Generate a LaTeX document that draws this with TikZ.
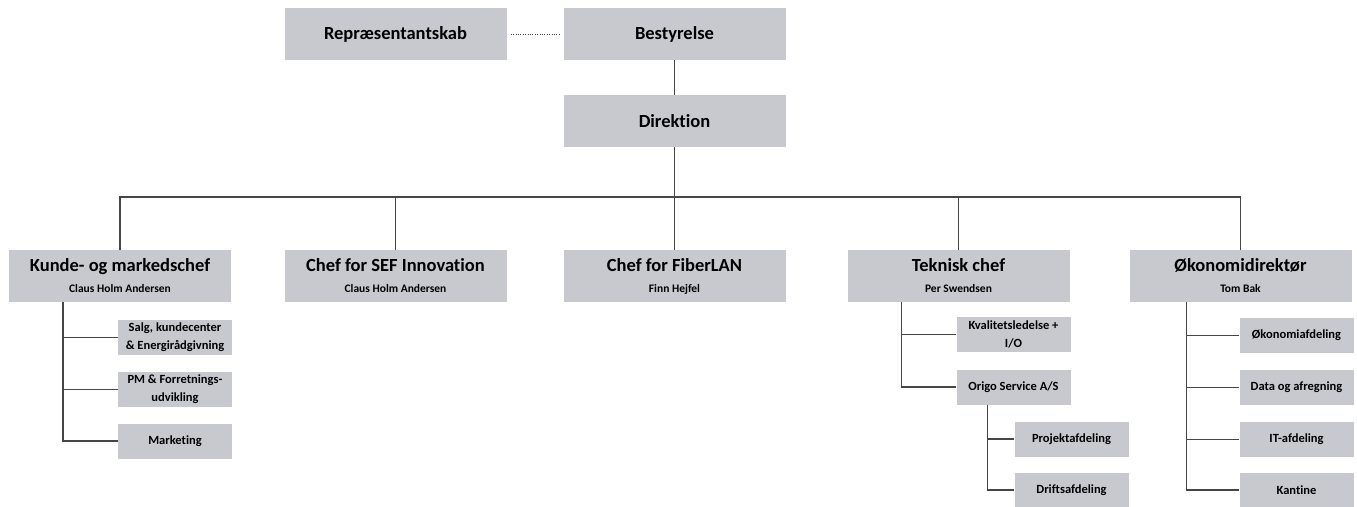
\documentclass[tikz,border=0pt]{standalone}
\usepackage{fontspec}
\setmainfont{Carlito}[Ligatures=NoCommon]
\definecolor{boksgraa}{RGB}{199,201,206}
\definecolor{stregraa}{RGB}{70,70,70}
\tikzset{
  org_node/.style = {rectangle, fill=boksgraa, inner sep=2pt, align=center,
    text=black},
  org_top/.style = {org_node, minimum width=222pt, minimum height=52pt,
    font=\bfseries\fontsize{18.5}{21}\selectfont},% ledelse og chefer
  org_afd/.style = {org_node, minimum width=114pt, minimum height=35pt,
    font=\bfseries\fontsize{12.5}{18}\selectfont},% afdeling
  org_line/.style = {draw=stregraa, line width=1.6pt}% forbindelse
}
\newcommand{\chefnavn}[1]{{\fontsize{11.5}{13}\selectfont #1}}

\begin{document}
\begin{tikzpicture}[x=1pt,y=-1pt]
\useasboundingbox (0,0) rectangle (1357,506);
% ledelse
\node [org_top] (repr) at (395.5,34) {Repræsentantskab};
\node [org_top] (best) at (674.5,34) {Bestyrelse};
\node [org_top] (dir) at (674.5,121) {Direktion};
\coordinate (bus) at (674.5,197);
% chefer
\node [org_top] (kunde) at (120,276) {Kunde- og markedschef\\\chefnavn{Claus Holm Andersen}};
\node [org_top] (sef) at (395.5,276) {Chef for SEF Innovation\\\chefnavn{Claus Holm Andersen}};
\node [org_top] (fiber) at (674.5,276) {Chef for FiberLAN\\\chefnavn{Finn Hejfel}};
\node [org_top] (tek) at (958.5,276) {Teknisk chef\\\chefnavn{Per Swendsen}};
\node [org_top] (oko) at (1240.5,276) {Økonomidirektør\\\chefnavn{Tom Bak}};
% afdelinger
\node [org_afd] (salg) at (175,337.5) {Salg, kundecenter\\\& Energirådgivning};
\node [org_afd] (pm) at (175,389.5) {PM \& Forretnings-\\udvikling};
\node [org_afd] (mkt) at (175,441) {Marketing};
\node [org_afd] (kval) at (1013.5,334.5) {Kvalitetsledelse +\\I/O};
\node [org_afd] (origo) at (1013.5,387) {Origo Service A/S};
\node [org_afd] (proj) at (1071.5,439) {Projektafdeling};
\node [org_afd] (drift) at (1071.5,490) {Driftsafdeling};
\node [org_afd] (okafd) at (1296.5,335.5) {Økonomiafdeling};
\node [org_afd] (data) at (1296.5,387.5) {Data og afregning};
\node [org_afd] (it) at (1296.5,439.5) {IT-afdeling};
\node [org_afd] (kant) at (1296.5,490) {Kantine};

\draw [dotted, stregraa, shorten <=4pt, shorten >=4pt] (repr) -- (best);
\draw [org_line] (best) -- (dir);
\foreach \n in {kunde,sef,fiber,tek,oko}
  \draw [org_line] (dir.south) -- (bus) -| (\n.north);
\foreach \n in {salg,pm,mkt}
  \draw [org_line] ([xshift=54pt]kunde.south west) |- (\n.west);
\foreach \n in {kval,origo}
  \draw [org_line] ([xshift=54pt]tek.south west) |- (\n.west);
\foreach \n in {proj,drift}
  \draw [org_line] ([xshift=31pt]origo.south west) |- (\n.west);
\foreach \n in {okafd,data,it,kant}
  \draw [org_line] ([xshift=57pt]oko.south west) |- (\n.west);
\end{tikzpicture}
\end{document}
